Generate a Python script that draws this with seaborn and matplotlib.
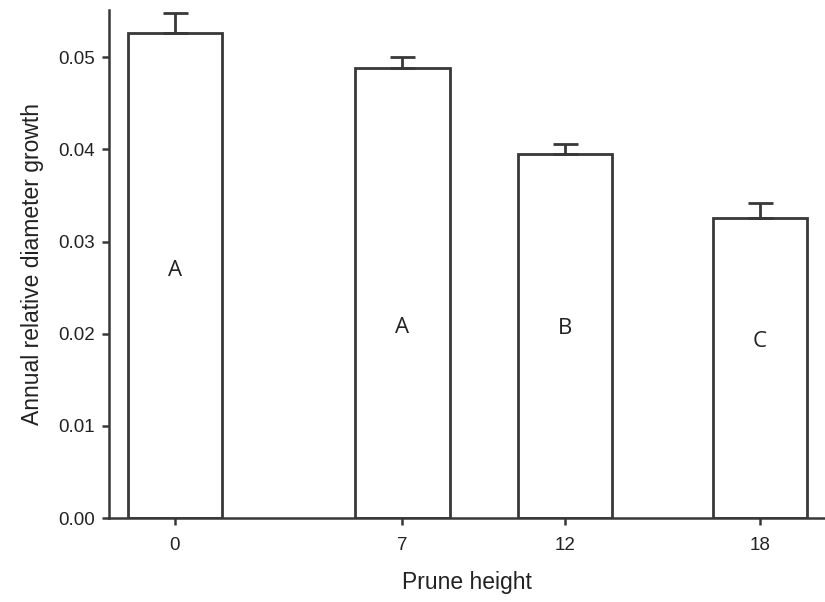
import matplotlib
matplotlib.use("Agg")
import matplotlib.pyplot as plt
import seaborn as sns
import pandas as pd
import numpy as np

prune_height = [0, 7, 12, 18]
growth = [0.0526, 0.0488, 0.0395, 0.0326]
sem = [0.0022, 0.0012, 0.0011, 0.0016]
letters = ["A", "A", "B", "C"]
letter_y = [0.0269, 0.0207, 0.0206, 0.0192]

sns.set_style("ticks")
plt.rcParams["font.family"] = ["Liberation Sans", "DejaVu Sans"]

df = pd.DataFrame({"Prune height": prune_height, "growth": growth})

fig = plt.figure(figsize=(8.25, 6.02), dpi=100)
ax = fig.add_axes([0.132, 0.1395, 0.868, 0.8435])

ink = "#383838"
sns.barplot(data=df, x="Prune height", y="growth", native_scale=True,
            width=0.58, color="white", edgecolor=ink, linewidth=2,
            errorbar=None, ax=ax)

ax.errorbar(prune_height, growth, yerr=[np.zeros(len(sem)), sem], fmt="none",
            ecolor=ink, elinewidth=2, capsize=9, capthick=2, zorder=3)

for x, y, t in zip(prune_height, letter_y, letters):
    ax.text(x, y, t, ha="center", va="center", fontsize=16, color="#222222",
            family=["Open Sans", "DejaVu Sans"])

ax.set_xlim(-2.03, 20.0)
ax.set_ylim(0, 0.0551)
ax.set_xticks(prune_height)
ax.set_xticklabels([str(v) for v in prune_height])
ax.set_yticks([0.0, 0.01, 0.02, 0.03, 0.04, 0.05])
ax.set_yticklabels(["0.00", "0.01", "0.02", "0.03", "0.04", "0.05"])

for s in ["top", "right"]:
    ax.spines[s].set_visible(False)
for s in ["left", "bottom"]:
    ax.spines[s].set_color(ink)
    ax.spines[s].set_linewidth(1.8)

ax.tick_params(axis="both", direction="out", length=5, width=1.8, color=ink,
               labelsize=13.5, labelcolor="#222222", pad=5)
ax.tick_params(axis="x", pad=9)

ax.set_xlabel("Prune height", fontsize=16.5, color="#222222", labelpad=12)
ax.set_ylabel("Annual relative diameter growth", fontsize=16.5, color="#222222", labelpad=10)

fig.savefig("out.png", dpi=100)
